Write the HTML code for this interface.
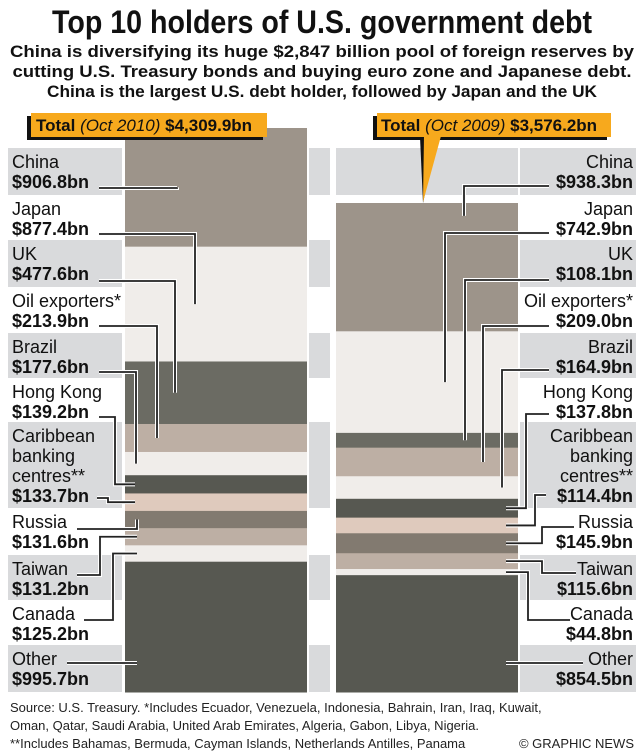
<!DOCTYPE html>
<html><head><meta charset="utf-8"><style>
html,body{margin:0;padding:0;background:#fff;}
svg{display:block;font-family:"Liberation Sans",Arial,sans-serif;}
</style></head><body>
<svg id="chart" width="644" height="751" viewBox="0 0 644 751" xmlns="http://www.w3.org/2000/svg">
<text x="322" y="33" text-anchor="middle" font-size="32" font-weight="bold" textLength="540" lengthAdjust="spacingAndGlyphs" fill="#111">Top 10 holders of U.S. government debt</text>
<text x="322" y="57" text-anchor="middle" font-size="17" font-weight="bold" textLength="624" lengthAdjust="spacingAndGlyphs" fill="#111">China is diversifying its huge $2,847 billion pool of foreign reserves by</text>
<text x="322" y="77" text-anchor="middle" font-size="17" font-weight="bold" textLength="619" lengthAdjust="spacingAndGlyphs" fill="#111">cutting U.S. Treasury bonds and buying euro zone and Japanese debt.</text>
<text x="322" y="97" text-anchor="middle" font-size="17" font-weight="bold" textLength="550" lengthAdjust="spacingAndGlyphs" fill="#111">China is the largest U.S. debt holder, followed by Japan and the UK</text>
<g id="rows"></g>
<g id="bars"></g>
<g id="leaders"></g>
<g id="labels"></g>
<g>
<rect x="27" y="116" width="236" height="24" fill="#111"/>
<rect x="31" y="113" width="236" height="24" fill="#f7a91d"/>
<text x="36" y="131" font-size="17" fill="#111"><tspan font-weight="bold">Total </tspan><tspan font-style="italic">(Oct 2010) </tspan><tspan font-weight="bold">$4,309.9bn</tspan></text>
</g>
<g>
<rect x="373" y="116" width="234" height="24" fill="#111"/>
<polygon points="420,137 423,203 437,137" fill="#111"/>
<rect x="377" y="113" width="234" height="24" fill="#f7a91d"/>
<polygon points="424,136 423,202 441,136" fill="#f7a91d"/>
<text x="381" y="131" font-size="17" fill="#111"><tspan font-weight="bold">Total </tspan><tspan font-style="italic">(Oct 2009) </tspan><tspan font-weight="bold">$3,576.2bn</tspan></text>
</g>
<g font-size="13" fill="#222">
<text x="10" y="712">Source: U.S. Treasury. *Includes Ecuador, Venezuela, Indonesia, Bahrain, Iran, Iraq, Kuwait,</text>
<text x="10" y="730">Oman, Qatar, Saudi Arabia, United Arab Emirates, Algeria, Gabon, Libya, Nigeria.</text>
<text x="10" y="748">**Includes Bahamas, Bermuda, Cayman Islands, Netherlands Antilles, Panama</text>
<text x="634" y="748" text-anchor="end">© GRAPHIC NEWS</text>
</g>
</svg>
<script>
const categories = ["China","Japan","UK","Oil exporters*","Brazil","Hong Kong","Caribbean banking centres**","Russia","Taiwan","Canada","Other"];
const values2010 = [906.8,877.4,477.6,213.9,177.6,139.2,133.7,131.6,131.2,125.2,995.7];
const values2009 = [938.3,742.9,108.1,209.0,164.9,137.8,114.4,145.9,115.6,44.8,854.5];
const total2010 = 4309.9;
const total2009 = 3576.2;

const NS = "http://www.w3.org/2000/svg";
function mk(tag, attrs, parent){const e=document.createElementNS(NS,tag);for(const k in attrs)e.setAttribute(k,attrs[k]);parent.appendChild(e);return e;}
const colors = ["#9d948a","#f0edea","#6b6b63","#bdafa4","#f0edea","#575851","#dfcabd","#827a70","#bdafa4","#f0edea","#575851"];
const rowsTop = [148,195,240,287,333,378,422,508,555,600,645];
const rowsBot = 692;
const BOTTOM = 692;

const rowsG = document.getElementById('rows');
rowsTop.forEach((t,i)=>{
  if(i%2===0){
    const b = i+1<rowsTop.length?rowsTop[i+1]:rowsBot;
    const r = mk('rect',{x:8,y:t,width:628,height:b-t,fill:'#d9dadc'},rowsG);
    
    
  }
});
[[122,3],[307,2],[330,6],[518,2]].forEach(g=>mk('rect',{x:g[0],y:140,width:g[1],height:560,fill:'#fff'},rowsG));

function segs(vals,total,topPx){const k=(BOTTOM-topPx)/total;let acc=0;return vals.map(v=>{const y0=topPx+acc*k;acc+=v;const y1=topPx+acc*k;return [y0,y1];});}
const segL = segs(values2010,total2010,128);
const segR = segs(values2009,total2009,203);

const barsG=document.getElementById('bars');
function drawBar(seg,x,w,year){
  seg.forEach((s,i)=>{
    const r=mk('rect',{x:x,y:s[0],width:w,height:Math.max(0,s[1]-s[0])+0.5,fill:colors[i]},barsG);
    
    
  });
}
drawBar(segL,125,182,'2010');
drawBar(segR,336,182,'2009');

const leadG=document.getElementById('leaders');
function leader(pts,name){
  const d='M'+pts.map(p=>p.join(',')).join(' L');
  mk('path',{d:d,fill:'none',stroke:'#fff','stroke-width':4,'stroke-linejoin':'miter'},leadG);
  const p=mk('path',{d:d,fill:'none',stroke:'#222','stroke-width':1.8},leadG);
  
  
}
// [startX, startY offset from row top, elbowX, endX, frac (null = stay horizontal)]
const leftLayout=[[99,40,177,177,0.5],[99,39,195,195,0.5],[99,41,175,175,0.5],[99,39,157,157,0.5],[99,39,136,136,0.5],[99,39,115,135,0.5],[97,76,108,135,0.5],[77,21,137,137,0.5],[77,20,100,137,0.5],[84,20,113,137,0.5],[67,18,137,137,null]];
const rightLayout=[[549,38,464,464,0.1],[549,38,445,445,0.5],[549,40,465,465,0.5],[549,39,483,483,0.5],[549,37,502,502,0.5],[549,36,526,506,0.5],[546,73,535,506,0.5],[574,19,542,506,0.5],[576,18,542,506,0.5],[570,20,528,506,0.5],[583,18,506,506,null]];
categories.forEach((c,i)=>{
  let L=leftLayout[i], s=segL[i], sy=rowsTop[i]+L[1];
  let ty = L[4]===null ? sy : s[0]+(s[1]-s[0])*L[4];
  let pts=[[L[0],sy],[L[2],sy],[L[2],ty]]; if(L[3]!==L[2])pts.push([L[3],ty]);
  leader(pts,'leader-2010-'+i);
  let R=rightLayout[i]; s=segR[i]; sy=rowsTop[i]+R[1];
  ty = R[4]===null ? sy : s[0]+(s[1]-s[0])*R[4];
  pts=[[R[0],sy],[R[2],sy],[R[2],ty]]; if(R[3]!==R[2])pts.push([R[3],ty]);
  leader(pts,'leader-2009-'+i);
});

const labG=document.getElementById('labels');
function label(x,anchor,top,nameLines,val,name){
  const g=mk('g',{},labG);
  
  
  nameLines.forEach((t,j)=>{const e=mk('text',{x:x,y:top+20+j*20,'text-anchor':anchor,'font-size':18,fill:'#111'},g);e.textContent=t;});
  const v=mk('text',{x:x,y:top+20+nameLines.length*20,'text-anchor':anchor,'font-size':18,'font-weight':'bold',fill:'#111'},g);
  v.textContent='$'+val.toFixed(1)+'bn';
}
categories.forEach((c,i)=>{
  const lines = i===6?["Caribbean","banking","centres**"]:[c];
  const key=c.toLowerCase().replace(/[^a-z]+/g,'-').replace(/-+$/,'');
  label(12,'start',rowsTop[i],lines,values2010[i],'label-2010-'+key);
  label(633,'end',rowsTop[i],lines,values2009[i],'label-2009-'+key);
});
</script>
</body></html>
